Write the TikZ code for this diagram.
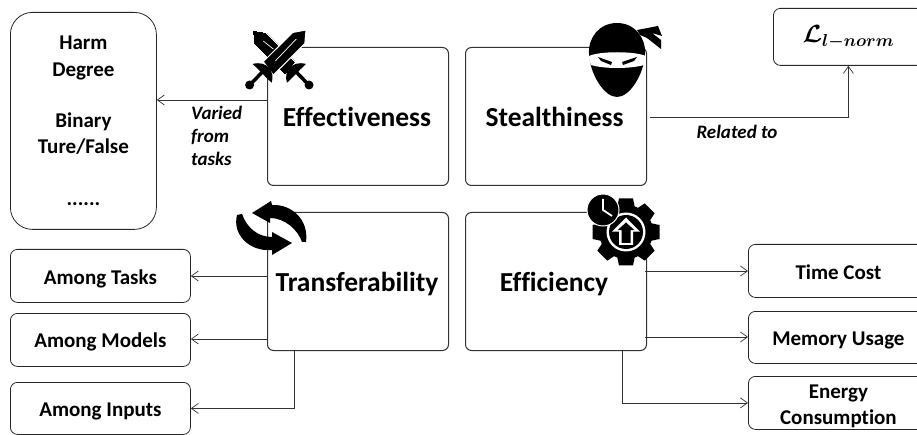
\documentclass[tikz,border=0pt]{standalone}
\usepackage{fontspec}
\usepackage{amsmath}
\setmainfont[Ligatures=NoCommon]{Carlito}
\usetikzlibrary{arrows.meta}
\tikzset{
 x=1pt,y=-1pt,
 bigbox/.style={draw=black!80,line width=1pt,rounded corners=6pt,minimum width=181pt,minimum height=138pt,anchor=north west,inner sep=0pt},
 smallbox/.style={draw=black!85,line width=0.8pt,rounded corners=7pt,minimum width=180pt,anchor=north west,inner sep=0pt,align=center,font=\bfseries\fontsize{21}{25}\selectfont},
 conn/.style={draw=black!80,line width=0.8pt,-{Straight Barb[length=7pt,width=10pt,line width=0.7pt]}},
 lab/.style={font=\bfseries\itshape\fontsize{19}{23}\selectfont,inner sep=0pt},
 title/.style={font=\bfseries\fontsize{27.5}{30}\selectfont,inner sep=0pt},
}
\begin{document}
\begin{tikzpicture}
\useasboundingbox (0,0) rectangle (917,435);
\node[bigbox] (eff) at (267,47) {};
\node[bigbox] (ste) at (465,47) {};
\node[bigbox] (tra) at (267,212) {};
\node[bigbox] (efc) at (465,212) {};
\node[title] (efft) at (357,117) {Effectiveness};
\node[title] (stet) at (554.5,117) {Stealthiness};
\node[title] (trat) at (357,284) {Transferability};
\node[title] (efct) at (554,284) {Efficiency};
\node[draw=black!85,line width=0.8pt,rounded corners=22pt,minimum width=146pt,minimum height=217pt,anchor=north west,inner sep=0pt,align=center,font=\bfseries\fontsize{21}{26}\selectfont] (harm) at (10,12) {Harm\\[1pt]Degree\\[25pt]Binary\\Ture/False\\[26pt]......};
\node[smallbox,minimum height=57pt,minimum width=150pt,font=\boldmath\fontsize{27}{30}\selectfont] (lnorm) at (773,8) {$\mathcal{L}_{l-norm}$};
\node[smallbox,minimum height=53pt] (t1) at (10,249) {\rule{0pt}{20pt}Among Tasks};
\node[smallbox,minimum height=53pt] (t2) at (10,313) {\rule{0pt}{19pt}Among Models};
\node[smallbox,minimum height=52pt] (t3) at (10,382) {\rule{0pt}{20pt}Among Inputs};
\node[smallbox,minimum height=53pt] (e1) at (748,244) {\rule{0pt}{17pt}Time Cost};
\node[smallbox,minimum height=52pt] (e2) at (748,311) {\rule{0pt}{20pt}Memory Usage};
\node[smallbox,minimum height=53pt] (e3) at (748,376) {\rule{0pt}{20pt}Energy\\[1pt]Consumption};
\coordinate (a) at (267,100);
\draw[conn] (a) -- (harm.east |- a);
\node[lab,anchor=north west,align=left] (l1) at (191,106) {Varied\\from\\tasks};
\coordinate (b) at (650,117);
\draw[conn] (b) -| (lnorm.south);
\node[lab] (l2) at (737,132) {Related to};
\coordinate (c) at (267,276);
\draw[conn] (c) -- (t1.east |- c);
\coordinate (d) at (267,339);
\draw[conn] (d) -- (t2.east |- d);
\coordinate (g) at (294,350);
\draw[conn] (g) |- (t3.east);
\coordinate (h) at (645,271);
\draw[conn] (h) -- (e1.west |- h);
\coordinate (i) at (645,337);
\draw[conn] (i) -- (e2.west |- i);
\coordinate (j) at (622,350);
\draw[conn] (j) |- (e3.west);
% swords
\begin{scope}[shift={(279.3,0)}]
\foreach \s/\w in {-1/0pt,1/1pt}{
\begin{scope}[xscale=\s]
\filldraw[fill=black,draw=white,line width=\w] (26.7,30) -- (13.3,32.5) -- (-16,61.7) -- (-6,75) -- (25.5,43.5) -- cycle;
\fill[black] (-26.7,64) .. controls (-12,60) and (-4,72) .. (-7.7,82.7) .. controls (-13,78) and (-20,70) .. (-26.7,64) -- cycle;
\draw[black,line width=3.5pt] (-17,72) -- (-29,84.5);
\fill[black] (-29.7,85) circle (4.5);
\end{scope}}
\draw[white,line width=0.7pt] (17,39) -- (-4,61);
\draw[white,line width=0.7pt] (-16,41) -- (-6,49);
\end{scope}
% ninja
\fill[black] (617,23) .. controls (635,23) and (646,38) .. (645,54) .. controls (644,74) and (630,97) .. (617,97) .. controls (604,97) and (590,74) .. (589,54) .. controls (588,38) and (599,23) .. (617,23) -- cycle;
\fill[white] (589,56) .. controls (600,51) and (634,51) .. (646,56) .. controls (646,60) and (645,65) .. (644,65) .. controls (630,69) and (604,69) .. (591,65) .. controls (590,63) and (589,60) .. (589,56) -- cycle;
\fill[black] (598,57) -- (612,62) -- (611,65) -- (601,61) -- cycle;
\fill[black] (637,57) -- (622,62) -- (623,65) -- (634,61) -- cycle;
\fill[black] (637,30) -- (658,26) -- (662,36) -- (652,33) -- (661,40) -- (661,49) -- (647,38) -- (640,35) -- cycle;
% cycle arrows
\fill[black] (272,205) .. controls (292,204) and (309,220) .. (306,242) -- (302,242) .. controls (298,230) and (285,218) .. (270,218) -- (270,223) -- (252,213) -- (271,201) -- cycle;
\fill[black] (237,215) .. controls (232,235) and (250,252) .. (272,250) -- (272,255) -- (292,243) -- (272,232) -- (272,237) .. controls (258,237) and (247,228) .. (242,214) -- cycle;
% gear + clock
\begin{scope}[shift={(626,232)}]
\foreach \a in {0,45,...,315}{\fill[black,rotate=\a] (-7,-33.5) -- (7,-33.5) -- (9,-24) -- (-9,-24) -- cycle;}
\fill[black] (0,0) circle (27);
\fill[white] (0,0) circle (19.5);
\fill[black] (0,0) circle (17);
\fill[white] (0,-14.5) -- (14,-0.3) -- (7,-0.3) -- (7,13) -- (-7,13) -- (-7,-0.3) -- (-14,-0.3) -- cycle;
\fill[black] (0,-9.5) -- (8.5,-1.8) -- (4.5,-1.8) -- (4.5,11) -- (-4.5,11) -- (-4.5,-1.8) -- (-8.5,-1.8) -- cycle;
\fill[black,draw=white,line width=1pt] (-23,-22) circle (16);
\draw[white,line width=1.8pt] (-23,-33) -- (-23,-22) -- (-14,-16);
\end{scope}
\end{tikzpicture}
\end{document}
